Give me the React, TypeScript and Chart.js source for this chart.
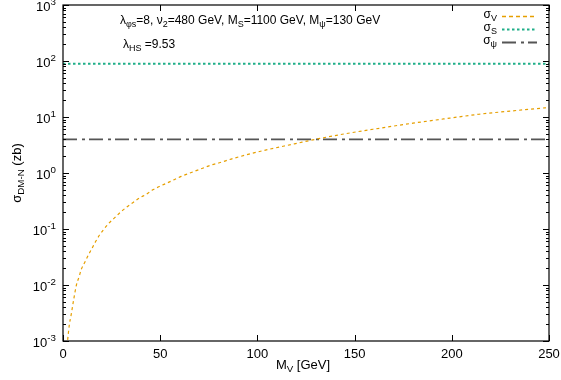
import React, { useEffect, useRef } from "react";
import { Chart, registerables } from "chart.js";

Chart.register(...registerables);

// ---- data ----
const massV: number[] = [2.4, 3.3, 4.1, 5.5, 6.9, 8.3, 9.4, 11.1, 13, 14.9, 16.7, 18.8, 21.1, 23.8, 26.5, 29.6, 32.7, 35.9, 39.2, 42.8, 46.2, 49.6, 53.4, 57.2, 60.8, 64.7, 68.5, 72.2, 76, 80.1, 87.6, 103, 119, 131, 146.7, 163, 180, 199, 214, 231.5, 250];
const sigmaV: number[] = [0.00105, 0.002, 0.0028, 0.0055, 0.01, 0.0141, 0.019, 0.025, 0.034, 0.045, 0.059, 0.078, 0.1, 0.129, 0.158, 0.2, 0.245, 0.295, 0.355, 0.417, 0.5, 0.575, 0.66, 0.76, 0.87, 0.98, 1.1, 1.23, 1.38, 1.51, 1.82, 2.51, 3.31, 4.07, 5.13, 6.31, 7.76, 9.55, 11.2, 12.9, 14.8];
const massRange: number[] = [0, 250];
const sigmaS: number[] = [89, 89];
const sigmaPsi: number[] = [3.98, 3.98];
const xTicks: number[] = [0, 50, 100, 150, 200, 250];
const yExponents: number[] = [-3, -2, -1, 0, 1, 2, 3];

const FONT = '"Liberation Sans", Arial, sans-serif';

type Seg = { t: string; s?: "sub" | "sup" };

function segFont(size: number, s?: string) {
  return `${s ? size * 0.75 : size}px ${FONT}`;
}
function richWidth(ctx: CanvasRenderingContext2D, segs: Seg[], size: number) {
  let w = 0;
  for (const sg of segs) {
    ctx.font = segFont(size, sg.s);
    w += ctx.measureText(sg.t).width;
  }
  return w;
}
function drawRich(ctx: CanvasRenderingContext2D, segs: Seg[], x: number, y: number, align: "left" | "center" | "right", size: number) {
  const w = richWidth(ctx, segs, size);
  let cx = align === "left" ? x : align === "center" ? x - w / 2 : x - w;
  ctx.textAlign = "left";
  ctx.textBaseline = "middle";
  for (const sg of segs) {
    ctx.font = segFont(size, sg.s);
    const dy = sg.s === "sub" ? size * 0.32 : sg.s === "sup" ? -size * 0.34 : 0;
    ctx.fillText(sg.t, cx, y + dy);
    cx += ctx.measureText(sg.t).width;
  }
}

const decorPlugin = {
  id: "decor",
  afterDatasetsDraw(chart: any) {
    const ctx: CanvasRenderingContext2D = chart.ctx;
    const { left, right, top, bottom } = chart.chartArea;
    const xs = chart.scales.x;
    const ys = chart.scales.y;
    ctx.save();
    ctx.strokeStyle = "#000";
    ctx.fillStyle = "#000";
    ctx.lineWidth = 1;
    // x ticks
    for (const v of xTicks) {
      const px = Math.round(xs.getPixelForValue(v)) + 0.5;
      ctx.beginPath();
      ctx.moveTo(px, bottom); ctx.lineTo(px, bottom - 6);
      ctx.moveTo(px, top); ctx.lineTo(px, top + 6);
      ctx.stroke();
      drawRich(ctx, [{ t: String(v) }], xs.getPixelForValue(v), bottom + 13, "center", 13);
    }
    // y ticks
    for (const e of yExponents) {
      const py = Math.round(ys.getPixelForValue(Math.pow(10, e))) + 0.5;
      ctx.beginPath();
      ctx.moveTo(left, py); ctx.lineTo(left + 6, py);
      ctx.moveTo(right, py); ctx.lineTo(right - 6, py);
      ctx.stroke();
      drawRich(ctx, [{ t: "10" }, { t: String(e), s: "sup" }], left - 7, ys.getPixelForValue(Math.pow(10, e)) + 2, "right", 13);
      if (e < 3) {
        for (let m = 2; m <= 9; m++) {
          const pm = Math.round(ys.getPixelForValue(m * Math.pow(10, e))) + 0.5;
          ctx.beginPath();
          ctx.moveTo(left, pm); ctx.lineTo(left + 3, pm);
          ctx.moveTo(right, pm); ctx.lineTo(right - 3, pm);
          ctx.stroke();
        }
      }
    }
    // frame
    ctx.lineWidth = 1.2;
    ctx.strokeRect(left, top, right - left, bottom - top);

    // axis titles
    drawRich(ctx, [{ t: "M" }, { t: "V", s: "sub" }, { t: " [GeV]" }], (left + right) / 2 - 3, bottom + 24, "center", 13);
    ctx.save();
    ctx.translate(17, (top + bottom) / 2);
    ctx.rotate(-Math.PI / 2);
    drawRich(ctx, [{ t: "σ" }, { t: "DM-N", s: "sub" }, { t: " (zb)" }], 0, 0, "center", 13);
    ctx.restore();

    // annotations
    drawRich(ctx, [
      { t: "λ" }, { t: "φs", s: "sub" }, { t: "=8, ν" }, { t: "2", s: "sub" },
      { t: "=480 GeV, M" }, { t: "S", s: "sub" }, { t: "=1100 GeV, M" }, { t: "ψ", s: "sub" }, { t: "=130 GeV" },
    ], 120, 21, "left", 12);
    drawRich(ctx, [{ t: "λ" }, { t: "HS", s: "sub" }, { t: " =9.53" }], 123, 45, "left", 12);

    // legend
    const legend = [
      { sub: "V", color: "#e69f00", dash: [4, 3], width: 1.3 },
      { sub: "S", color: "#1fae88", dash: [2.5, 2.5], width: 2 },
      { sub: "ψ", color: "#555555", dash: [14, 5, 3, 4], width: 1.8 },
    ];
    legend.forEach((it, i) => {
      const y = 16 + i * 13;
      ctx.fillStyle = "#000";
      drawRich(ctx, [{ t: "σ" }, { t: it.sub, s: "sub" }], 497, y - 1, "right", 12);
      ctx.strokeStyle = it.color;
      ctx.lineWidth = it.width;
      ctx.setLineDash(it.dash);
      ctx.beginPath();
      ctx.moveTo(502, y + 0.5);
      ctx.lineTo(537, y + 0.5);
      ctx.stroke();
      ctx.setLineDash([]);
    });
    ctx.restore();
  },
};

export default function App() {
  const ref = useRef<HTMLCanvasElement | null>(null);
  useEffect(() => {
    if (!ref.current) return;
    const chart = new Chart(ref.current, {
      type: "line",
      data: {
        datasets: [
          {
            label: "σV",
            data: massV.map((m, i) => ({ x: m, y: sigmaV[i] })),
            borderColor: "#e69f00",
            borderWidth: 1.2,
            borderDash: [3, 3],
            pointRadius: 0,
            cubicInterpolationMode: "monotone",
            fill: false,
          },
          {
            label: "σS",
            data: massRange.map((m, i) => ({ x: m, y: sigmaS[i] })),
            borderColor: "#1fae88",
            borderWidth: 2,
            borderDash: [2.5, 2.5],
            pointRadius: 0,
            fill: false,
          },
          {
            label: "σψ",
            data: massRange.map((m, i) => ({ x: m, y: sigmaPsi[i] })),
            borderColor: "#555555",
            borderWidth: 1.8,
            borderDash: [14, 5, 3, 4],
            pointRadius: 0,
            fill: false,
          },
        ],
      },
      options: {
        animation: false,
        responsive: false,
        devicePixelRatio: 1,
        layout: { padding: { left: 63, right: 12, top: 5, bottom: 39 } },
        plugins: { legend: { display: false }, tooltip: { enabled: false } },
        scales: {
          x: { type: "linear", min: 0, max: 250, display: false },
          y: { type: "logarithmic", min: 1e-3, max: 1e3, display: false },
        },
      },
      plugins: [decorPlugin],
    } as any);
    return () => chart.destroy();
  }, []);
  return (
    <div style={{ position: "fixed", left: 0, top: 0, width: 561, height: 380, background: "#fff" }}>
      <canvas ref={ref} width={561} height={380} style={{ display: "block" }} />
    </div>
  );
}
